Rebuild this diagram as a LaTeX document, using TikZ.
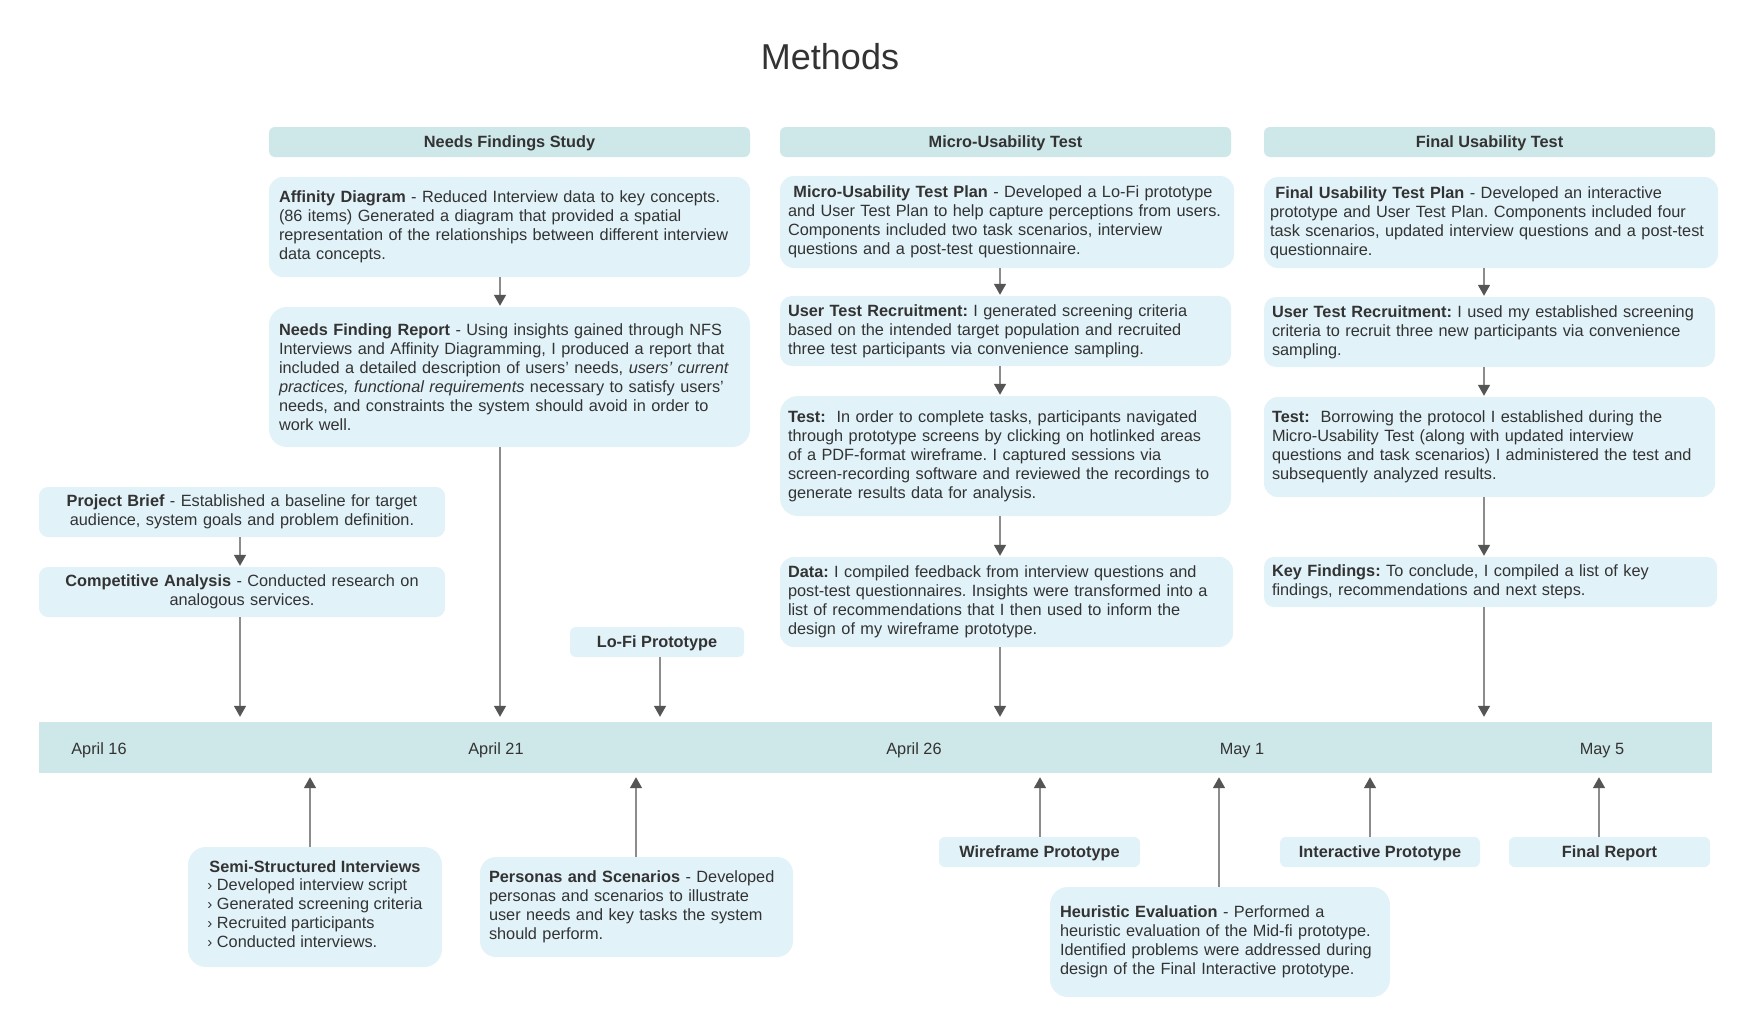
\documentclass[tikz,border=0pt]{standalone}
\usepackage{fontspec}
\setmainfont{Liberation Sans}
\usetikzlibrary{arrows.meta}

\definecolor{ink}{HTML}{333333}
\definecolor{cardblue}{HTML}{E1F2F9}
\definecolor{barteal}{HTML}{CEE7E9}
\definecolor{linegray}{HTML}{8C8C8C}
\definecolor{tipgray}{HTML}{555555}
\newcommand{\semibullet}{{\fontsize{15}{15}\selectfont›}\ }

\begin{document}
\begin{tikzpicture}[x=1pt, y=-1pt, text=ink, font=\fontsize{16.3}{19}\selectfont\frenchspacing,
  head/.style={fill=barteal, rounded corners=6pt, minimum height=30pt, inner sep=0pt, text depth=0pt, font=\fontsize{16.3}{19}\selectfont\bfseries},
  card/.style={fill=cardblue, rounded corners=14pt, align=left, inner xsep=8pt, inner ysep=0pt},
  tag/.style={fill=cardblue, rounded corners=6pt, minimum height=30pt, inner sep=0pt, text depth=0pt, font=\fontsize{16.3}{19}\selectfont\bfseries},
  link/.style={draw=linegray, line width=1.5pt, -{Triangle[width=12pt,length=11pt,color=tipgray]}}]
  % Draw the page
  \fill[white] (0,0) rectangle (1756,1033);
  \useasboundingbox (0,0) rectangle (1756,1033);

  \node[anchor=base, font=\fontsize{36}{40}\selectfont] (title) at (830,70) {Methods};

  % Phase headers
  \node[head, minimum width=481pt] (hneeds) at (509.5,142) {Needs Findings Study};
  \node[head, minimum width=451pt] (hmicro) at (1005.5,142) {Micro-Usability Test};
  \node[head, minimum width=451pt] (hfinal) at (1489.5,142) {Final Usability Test};

  % Needs findings column
  \node[card, inner xsep=10pt, text width=461pt, minimum height=100pt] (affinity) at (509.5,227) {\textbf{Affinity Diagram} - Reduced Interview data to key concepts.\\ (86 items) Generated a diagram that provided a spatial\\ representation of the relationships between different interview\\ data concepts.};
  \node[card, inner xsep=10pt, text width=461pt, minimum height=140pt, rounded corners=18pt] (report) at (509.5,377) {\textbf{Needs Finding Report} - Using insights gained through NFS\\ Interviews and Affinity Diagramming, I produced a report that\\ included a detailed description of users’ needs, \textit{users’ current}\\ \textit{practices, functional requirements} necessary to satisfy users’\\ needs, and constraints the system should avoid in order to\\ work well.};

  % Micro-usability column
  \node[card, text width=438pt, minimum height=92pt] (mplan) at (1007,222) {~\textbf{Micro-Usability Test Plan} - Developed a Lo-Fi prototype\\ and User Test Plan to help capture perceptions from users.\\ Components included two task scenarios, interview\\ questions and a post-test questionnaire.};
  \node[card, text width=435pt, minimum height=70pt, rounded corners=12pt] (mrecruit) at (1005.5,331) {\textbf{User Test Recruitment:} I generated screening criteria\\ based on the intended target population and recruited\\ three test participants via convenience sampling.};
  \node[card, text width=435pt, minimum height=120pt, rounded corners=18pt] (mtest) at (1005.5,456) {\textbf{Test:}~ In order to complete tasks, participants navigated\\ through prototype screens by clicking on hotlinked areas\\ of a PDF-format wireframe. I captured sessions via\\ screen-recording software and reviewed the recordings to\\ generate results data for analysis.};
  \node[card, text width=437pt, minimum height=90pt] (mdata) at (1006.5,602) {\textbf{Data:} I compiled feedback from interview questions and\\ post-test questionnaires. Insights were transformed into a\\ list of recommendations that I then used to inform the\\ design of my wireframe prototype.};

  % Final usability column
  \node[card, inner xsep=6pt, text width=442pt, minimum height=91pt] (fplan) at (1491,222.5) {~\textbf{Final Usability Test Plan} - Developed an interactive\\ prototype and User Test Plan. Components included four\\ task scenarios, updated interview questions and a post-test\\ questionnaire.};
  \node[card, text width=435pt, minimum height=70pt, rounded corners=12pt] (frecruit) at (1489.5,332) {\textbf{User Test Recruitment:} I used my established screening\\ criteria to recruit three new participants via convenience\\ sampling.};
  \node[card, text width=435pt, minimum height=100pt] (ftest) at (1489.5,447) {\textbf{Test:}~ Borrowing the protocol I established during the\\ Micro-Usability Test (along with updated interview\\ questions and task scenarios) I administered the test and\\ subsequently analyzed results.};
  \node[card, text width=437pt, minimum height=50pt, rounded corners=10pt] (findings) at (1490.5,582) {\textbf{Key Findings:} To conclude, I compiled a list of key\\ findings, recommendations and next steps.};

  % Early steps
  \node[card, align=center, text width=390pt, minimum height=50pt, rounded corners=9pt] (brief) at (242,512) {\textbf{Project Brief} - Established a baseline for target\\ audience, system goals and problem definition.};
  \node[card, align=center, text width=390pt, minimum height=50pt, rounded corners=9pt] (compete) at (242,592) {\textbf{Competitive Analysis} - Conducted research on\\ analogous services.};
  \node[tag, minimum width=174pt] (lofi) at (657,642) {Lo-Fi Prototype};

  % Timeline
  \node[fill=barteal, minimum width=1673pt, minimum height=51pt, inner sep=0pt] (bar) at (875.5,747.5) {};
  \node[anchor=base] (apr16) at (99,754) {April 16};
  \node[anchor=base] (apr21) at (496,754) {April 21};
  \node[anchor=base] (apr26) at (914,754) {April 26};
  \node[anchor=base] (may1) at (1242,754) {May 1};
  \node[anchor=base] (may5) at (1602,754) {May 5};

  % Below the timeline
  \node[card, align=center, minimum width=254pt, minimum height=120pt, rounded corners=18pt] (semi) at (315,907) {\textbf{Semi-Structured Interviews}\\[3pt] \begin{tabular}{@{}l@{}}\semibullet Developed interview script\\ \semibullet Generated screening criteria\\ \semibullet Recruited participants\\ \semibullet Conducted interviews.\end{tabular}};
  \node[card, inner xsep=9pt, text width=295pt, minimum height=100pt, rounded corners=16pt] (personas) at (636.5,907) {\textbf{Personas and Scenarios} - Developed\\ personas and scenarios to illustrate\\ user needs and key tasks the system\\ should perform.};
  \node[tag, minimum width=201pt] (wire) at (1039.5,852) {Wireframe Prototype};
  \node[card, inner xsep=10pt, text width=320pt, minimum height=110pt, rounded corners=18pt] (heuristic) at (1220,942) {\textbf{Heuristic Evaluation} - Performed a\\ heuristic evaluation of the Mid-fi prototype.\\ Identified problems were addressed during\\ design of the Final Interactive prototype.};
  \node[tag, minimum width=200pt] (interact) at (1380,852) {Interactive Prototype};
  \node[tag, minimum width=201pt] (report2) at (1609.5,852) {Final Report};

  % Arrows within the columns
  \draw[link, shorten >=1pt] (affinity.south -| 500,0) -- (report.north -| 500,0);
  \draw[link, shorten >=1pt] (mplan.south -| 1000,0) -- (mrecruit.north -| 1000,0);
  \draw[link, shorten >=1pt] (mrecruit.south -| 1000,0) -- (mtest.north -| 1000,0);
  \draw[link, shorten >=1pt] (mtest.south -| 1000,0) -- (mdata.north -| 1000,0);
  \draw[link, shorten >=1pt] (fplan.south -| 1484,0) -- (frecruit.north -| 1484,0);
  \draw[link, shorten >=1pt] (frecruit.south -| 1484,0) -- (ftest.north -| 1484,0);
  \draw[link, shorten >=1pt] (ftest.south -| 1484,0) -- (findings.north -| 1484,0);
  \draw[link, shorten >=1pt] (brief.south -| 240,0) -- (compete.north -| 240,0);

  % Arrows onto the timeline
  \draw[link, shorten >=5pt] (compete.south -| 240,0) -- (bar.north -| 240,0);
  \draw[link, shorten >=5pt] (report.south -| 500,0) -- (bar.north -| 500,0);
  \draw[link, shorten >=5pt] (lofi.south -| 660,0) -- (bar.north -| 660,0);
  \draw[link, shorten >=5pt] (mdata.south -| 1000,0) -- (bar.north -| 1000,0);
  \draw[link, shorten >=5pt] (findings.south -| 1484,0) -- (bar.north -| 1484,0);
  \draw[link, shorten >=4pt] (semi.north -| 310,0) -- (bar.south -| 310,0);
  \draw[link, shorten >=4pt] (personas.north -| 636,0) -- (bar.south -| 636,0);
  \draw[link, shorten >=4pt] (wire.north -| 1040,0) -- (bar.south -| 1040,0);
  \draw[link, shorten >=4pt] (heuristic.north -| 1219,0) -- (bar.south -| 1219,0);
  \draw[link, shorten >=4pt] (interact.north -| 1370,0) -- (bar.south -| 1370,0);
  \draw[link, shorten >=4pt] (report2.north -| 1599,0) -- (bar.south -| 1599,0);
\end{tikzpicture}
\end{document}
